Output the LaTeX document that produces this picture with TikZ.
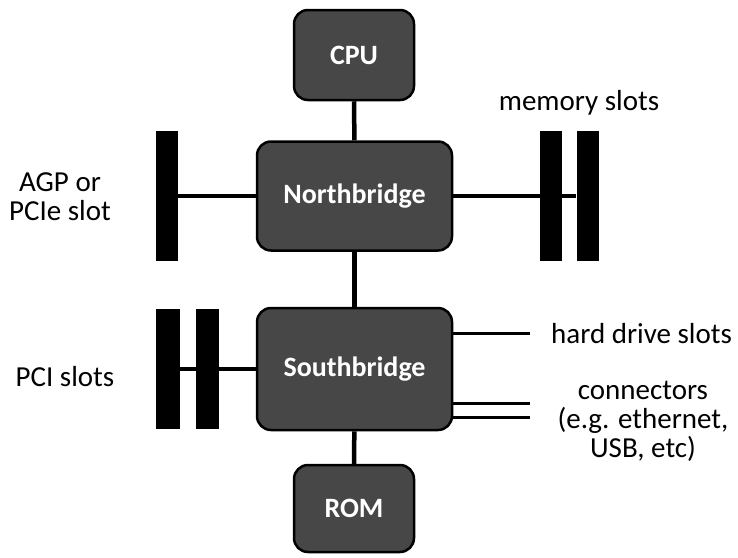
\documentclass[tikz,border=0pt]{standalone}
\usepackage{fontspec}
\setmainfont{Carlito}
\usepackage{tikz}
\usetikzlibrary{positioning}

\begin{document}
\begin{tikzpicture}[
  x=1pt, y=-1pt,
  chip/.style={draw=black, line width=2.5pt, fill=black!72, rounded corners=14pt,
    text=white, font=\fontsize{28}{30}\selectfont\bfseries, inner sep=0pt},
  slot/.style={fill=black, draw=none, minimum width=22pt, minimum height=130pt, inner sep=0pt},
  bus/.style={line width=4.5pt},
  wire/.style={line width=3pt},
  tag/.style={font=\fontsize{29}{29}\selectfont, align=center, inner sep=0pt}
]
\useasboundingbox (0,0) rectangle (738,557);
% chips down the middle
\node[chip, minimum width=120pt, minimum height=90pt] (cpu) at (354,55) {CPU};
\node[chip, minimum width=195pt, minimum height=109pt] (nb) at (354.5,196) {Northbridge};
\node[chip, minimum width=195pt, minimum height=122pt] (sb) at (354.5,369) {Southbridge};
\node[chip, minimum width=120pt, minimum height=87pt] (rom) at (354,508.5) {ROM};
% slots
\node[slot] (agp) at (167,196) {};
\node[slot] (mem1) at (551,196) {};
\node[slot] (mem2) at (587.5,196) {};
\node[slot, minimum width=24pt, minimum height=120pt] (pci1) at (168,369) {};
\node[slot, minimum width=23pt, minimum height=120pt] (pci2) at (207.5,369) {};
% free ends on the right
\coordinate (hdd) at (530,333);
\coordinate (conA) at (530,403);
\coordinate (conB) at (530,417);
% buses
\draw[bus] (cpu) -- (nb);
\draw[bus] (nb) -- (sb);
\draw[bus] (sb) -- (rom);
\draw[bus] (nb) -- (agp);
\draw[bus] (nb) -- (mem2);
\draw[bus] (sb) -- (pci1);
\draw[wire] (sb.east |- hdd) -- (hdd);
\draw[wire] (sb.east |- conA) -- (conA);
\draw[wire] (sb.east |- conB) -- (conB);
% labels
\node[tag] (agplabel) at (60,197) {AGP or\\PCIe slot};
\node[tag] (pcilabel) at (65,377) {PCI slots};
\node[tag] (memlabel) at (579,103) {memory slots};
\node[tag, anchor=west] (hddlabel) at (551,334) {hard drive slots};
\node[tag] (conlabel) at (643,421) {connectors\\(e.g. ethernet,\\USB, etc)};
\end{tikzpicture}
\end{document}
